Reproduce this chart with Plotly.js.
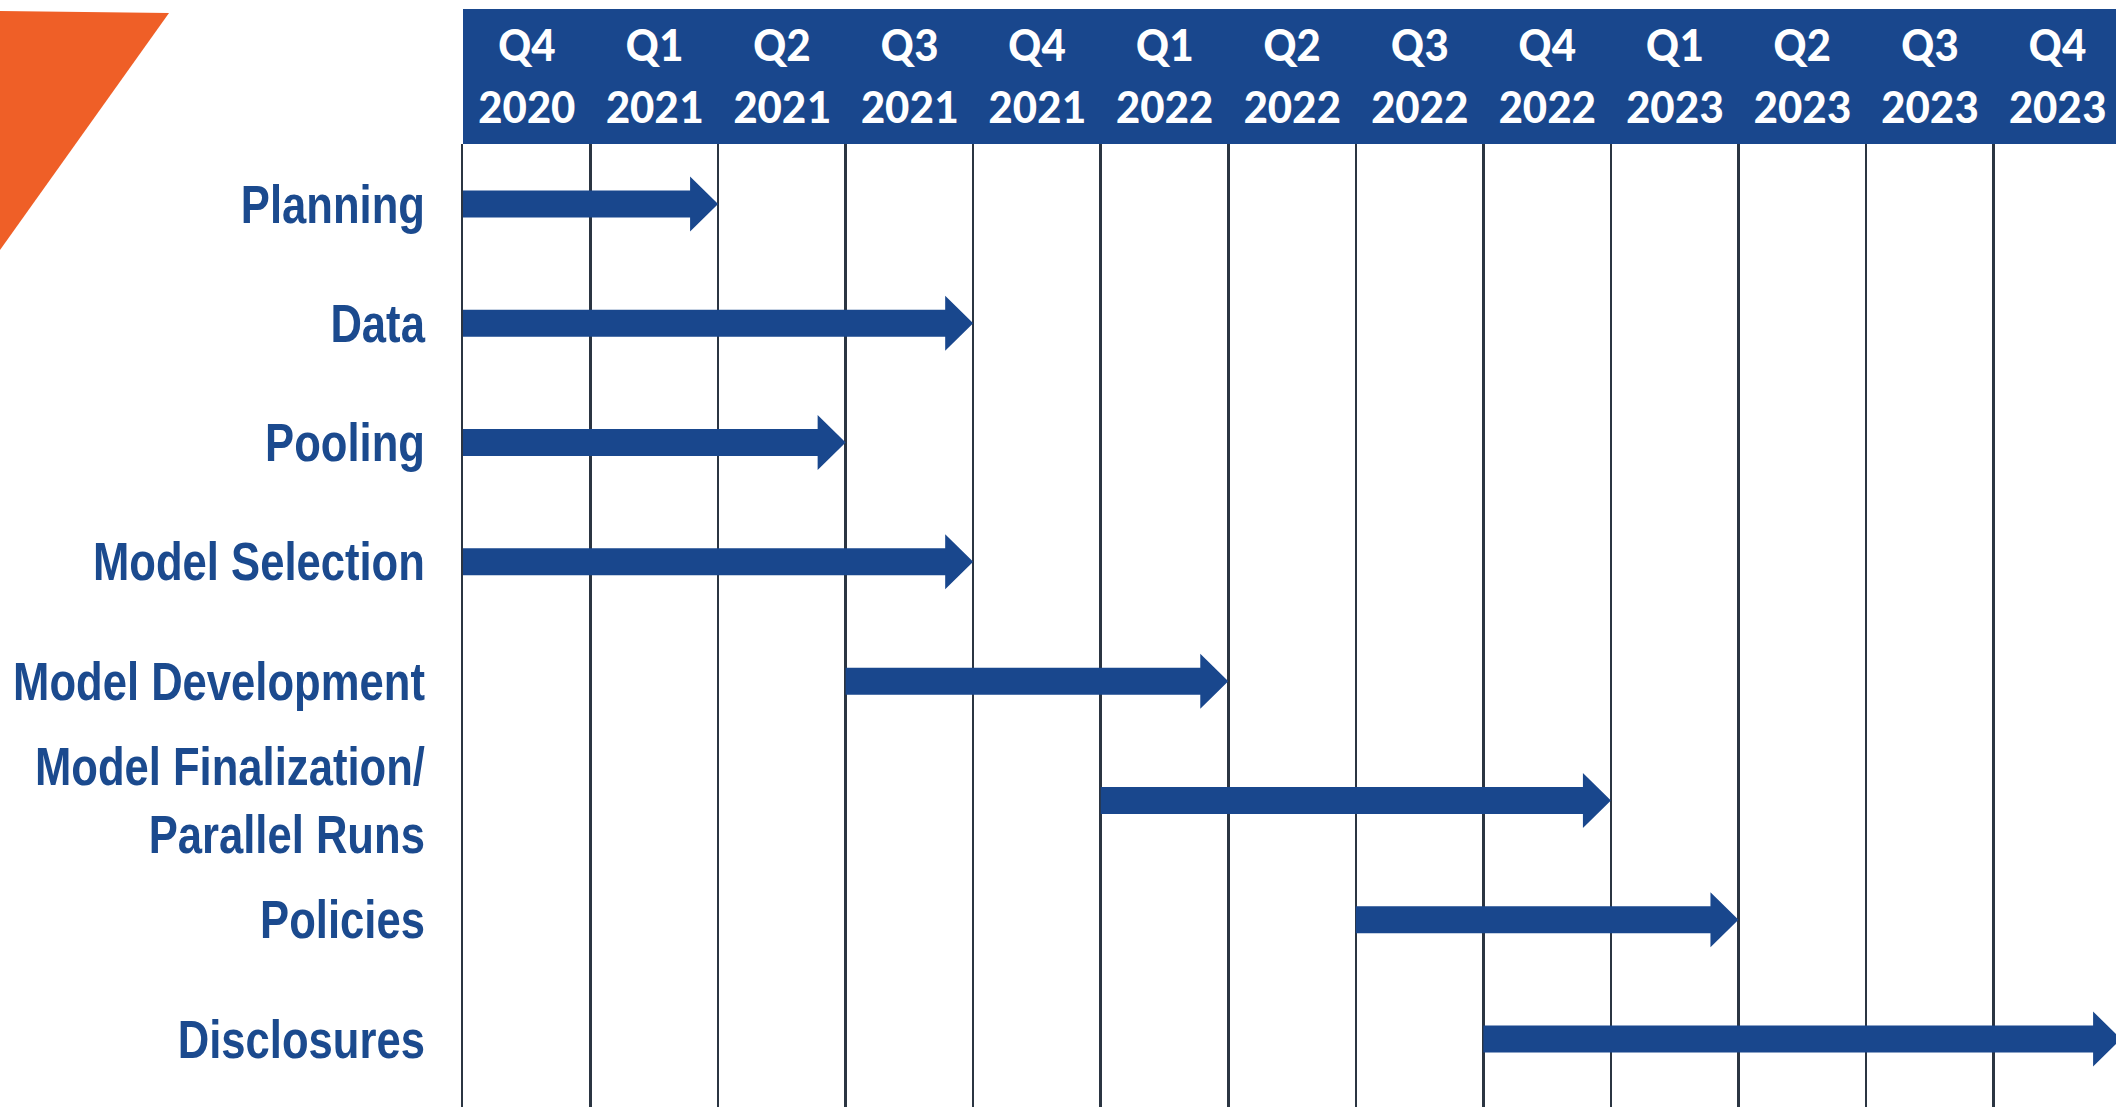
<!DOCTYPE html>
<html><head><meta charset="utf-8">
<script src="https://cdn.plot.ly/plotly-3.0.1.min.js"></script>
<style>html,body{margin:0;padding:0;background:#fff;}#chart{width:2116px;height:1114px;}</style>
</head><body><div id="chart"></div>
<script>
// ---- data ----
const quarterNames = ['Q4','Q1','Q2','Q3','Q4','Q1','Q2','Q3','Q4','Q1','Q2','Q3','Q4'];
const quarterYears = ['2020','2021','2021','2021','2021','2022','2022','2022','2022','2023','2023','2023','2023'];
const tasks = ['Planning','Data','Pooling','Model Selection','Model Development','Model Finalization/<br>Parallel Runs','Policies','Disclosures'];
const startQuarter = [0,0,0,0,3,5,7,8];   // column boundary where each task starts
const endQuarter   = [2,4,3,4,6,9,10,13]; // column boundary where each arrow ends

// ---- layout constants ----
const W=2116,H=1114;
const M={l:463,r:0,t:144,b:7,pad:0};
const plotW=W-M.l-M.r, plotH=H-M.t-M.b;
const xRange=[0,12.96];
const yRange=[7.57,-0.503];
const BLUE='#19478d';
const LABEL='#1b4a8e';
const GRID='#2b3542';
const ORANGE='#ef5f27';
const pxX = plotW/(xRange[1]-xRange[0]);
const pxY = plotH/Math.abs(yRange[0]-yRange[1]);
const HEAD_LEN=28/pxX, HEAD_HALF=27.5/pxY, SHAFT_HALF=13.5/pxY;

const ctx=document.createElement('canvas').getContext('2d');
function textW(font, text){ ctx.font=font; return ctx.measureText(text).width; }
function hasFont(name){
  return textW('bold 100px "'+name+'",monospace','Model Development') !== textW('bold 100px monospace','Model Development');
}
const narrowOK = hasFont('Liberation Sans Narrow');
const rowFam = narrowOK ? '"Liberation Sans Narrow",sans-serif' : '"Liberation Sans",Arial,sans-serif';
const rowSize = 53;
const rowScale = Math.min(1, 412 / textW('bold '+rowSize+'px '+rowFam,'Model Development'));
const hdrFam='Carlito,Calibri,"Open Sans",sans-serif';
const hdrSize=Math.min(48, 100*100/textW('bold 100px '+hdrFam,'2020'));

const traces = tasks.map((t,i)=>{
  const s=startQuarter[i], e=endQuarter[i], hb=e-HEAD_LEN;
  return {type:'scatter',mode:'lines',fill:'toself',fillcolor:BLUE,
    line:{width:0,color:BLUE},
    x:[s,hb,hb,e,hb,hb,s,s],
    y:[i-SHAFT_HALF,i-SHAFT_HALF,i-HEAD_HALF,i,i+HEAD_HALF,i+SHAFT_HALF,i+SHAFT_HALF,i-SHAFT_HALF],
    hoverinfo:'text', text:t.replace('<br>',' '), showlegend:false};
});

const px2x = px => (px-M.l)/plotW;
const px2y = py => (H-M.b-py)/plotH;

const layout = {
  width:W,height:H,margin:M,paper_bgcolor:'#ffffff',plot_bgcolor:'#ffffff',showlegend:false,
  xaxis:{range:xRange, side:'top', tickmode:'array',
    tickvals:quarterNames.map((q,i)=>i+0.5),
    ticktext:quarterNames.map((q,i)=>q+'<br>'+quarterYears[i]),
    tickfont:{family:hdrFam,size:hdrSize,color:'#ffffff',weight:'bold'},
    ticks:'', showgrid:false, zeroline:false, showline:false, ticklabelstandoff:10,
    minor:{tickmode:'array', tickvals:quarterNames.map((q,i)=>i), showgrid:true, gridcolor:GRID, gridwidth:2.5, ticks:''}},
  yaxis:{range:yRange, tickmode:'array', tickvals:tasks.map((t,i)=>i), ticktext:tasks,
    tickfont:{family:rowFam,size:rowSize,color:LABEL,weight:'bold'},
    ticks:'', showgrid:false, zeroline:false, showline:true, linecolor:GRID, linewidth:2.5, ticklabelstandoff:25},
  shapes:[
    {type:'rect',xref:'paper',yref:'paper',layer:'below',x0:0,x1:1.01,y0:1,y1:px2y(9),fillcolor:BLUE,line:{width:0}},
    {type:'path',xref:'paper',yref:'paper',layer:'below',
     path:'M'+px2x(0)+','+px2y(11)+' L'+px2x(169)+','+px2y(13)+' L'+px2x(0)+','+px2y(250)+' Z',
     fillcolor:ORANGE,line:{width:0}}
  ]
};
Plotly.newPlot('chart',traces,layout,{staticPlot:true}).then(gd=>{
  if(rowScale<0.999){
    gd.querySelectorAll('.ytick text').forEach(el=>{
      const x=parseFloat(el.getAttribute('x'))||0;
      const tr=el.getAttribute('transform')||'';
      el.setAttribute('transform', tr+' translate('+x+',0) scale('+rowScale+',1) translate('+(-x)+',0)');
    });
  }
});
</script></body></html>
